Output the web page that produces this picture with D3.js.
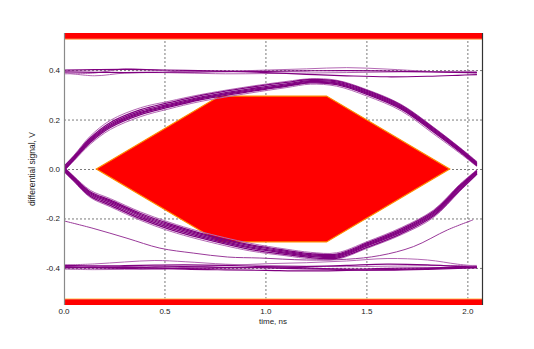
<!DOCTYPE html>
<html>
<head>
<meta charset="utf-8">
<script src="https://cdn.jsdelivr.net/npm/d3@7"></script>
<style>
    body { margin: 0; background: #fff; }
    text { font-family: "Liberation Sans", Arial, sans-serif; }
</style>
</head>
<body>
<div id="chart"></div>
<script>
// time points (ns) shared by the eye arcs
var arcT = [0, 0.05, 0.13, 0.23, 0.38, 0.52, 0.67, 0.92, 1.1, 1.22, 1.35, 1.5, 1.67, 1.83, 1.96, 2.045];

// upper arc traces (V)
var upArc1 = [0.01, 0.052, 0.125, 0.188, 0.24, 0.268, 0.296, 0.33, 0.35, 0.362, 0.356, 0.318, 0.258, 0.166, 0.084, 0.026];
var upArc2 = [0.005, 0.048, 0.12, 0.182, 0.234, 0.262, 0.29, 0.324, 0.344, 0.357, 0.352, 0.314, 0.254, 0.162, 0.08, 0.022];
var upArc3 = [0, 0.044, 0.116, 0.177, 0.229, 0.258, 0.286, 0.32, 0.34, 0.354, 0.348, 0.31, 0.25, 0.158, 0.077, 0.019];
var upArc4 = [-0.003, 0.041, 0.112, 0.173, 0.225, 0.254, 0.283, 0.316, 0.337, 0.351, 0.345, 0.306, 0.246, 0.154, 0.073, 0.016];
var upArc5 = [-0.006, 0.038, 0.107, 0.168, 0.22, 0.25, 0.279, 0.313, 0.334, 0.348, 0.341, 0.302, 0.242, 0.15, 0.07, 0.013];
var upArc6 = [0.012, 0.056, 0.133, 0.197, 0.248, 0.274, 0.3, 0.334, 0.354, 0.365, 0.359, 0.321, 0.261, 0.169, 0.087, 0.03];
var upArc7 = [-0.008, 0.034, 0.1, 0.16, 0.212, 0.243, 0.272, 0.307, 0.329, 0.343, 0.335, 0.295, 0.235, 0.142, 0.064, 0.01];

// lower arc traces (V)
var lowArc1 = [-0.008, -0.048, -0.11, -0.147, -0.202, -0.243, -0.278, -0.325, -0.346, -0.358, -0.361, -0.317, -0.261, -0.19, -0.086, -0.02];
var lowArc2 = [-0.004, -0.044, -0.105, -0.141, -0.196, -0.237, -0.272, -0.319, -0.341, -0.353, -0.356, -0.311, -0.255, -0.185, -0.08, -0.016];
var lowArc3 = [0, -0.04, -0.1, -0.135, -0.19, -0.231, -0.267, -0.315, -0.337, -0.35, -0.352, -0.307, -0.251, -0.18, -0.075, -0.012];
var lowArc4 = [0.003, -0.037, -0.096, -0.13, -0.185, -0.226, -0.262, -0.31, -0.333, -0.346, -0.348, -0.303, -0.247, -0.176, -0.071, -0.009];
var lowArc5 = [0.006, -0.034, -0.092, -0.126, -0.18, -0.221, -0.258, -0.306, -0.329, -0.342, -0.344, -0.299, -0.242, -0.171, -0.067, -0.006];
var lowArc6 = [-0.01, -0.052, -0.115, -0.153, -0.208, -0.25, -0.285, -0.331, -0.351, -0.363, -0.365, -0.321, -0.266, -0.196, -0.09, -0.022];
var lowArc7 = [0.008, -0.03, -0.086, -0.12, -0.174, -0.215, -0.252, -0.3, -0.324, -0.337, -0.339, -0.294, -0.237, -0.166, -0.062, -0.003];

// time points (ns) for the rail traces
var flatT = [0, 0.15, 0.3, 0.45, 0.6, 0.8, 1.0, 1.2, 1.4, 1.6, 1.8, 1.95, 2.045];

var upFlat1 = [0.393, 0.391, 0.39, 0.391, 0.392, 0.394, 0.395, 0.397, 0.398, 0.396, 0.393, 0.391, 0.39];
var upFlat2 = [0.39, 0.377, 0.388, 0.39, 0.388, 0.385, 0.386, 0.388, 0.39, 0.392, 0.394, 0.395, 0.395];
var upFlat3 = [0.385, 0.388, 0.405, 0.4, 0.392, 0.395, 0.4, 0.405, 0.41, 0.404, 0.395, 0.39, 0.388];
var upFlat4 = [0.4, 0.402, 0.403, 0.401, 0.399, 0.396, 0.39, 0.383, 0.377, 0.373, 0.375, 0.379, 0.382];

var lowFlat1 = [-0.395, -0.397, -0.398, -0.396, -0.395, -0.398, -0.4, -0.404, -0.405, -0.402, -0.4, -0.398, -0.396];
var lowFlat2 = [-0.388, -0.384, -0.376, -0.37, -0.375, -0.385, -0.39, -0.393, -0.395, -0.393, -0.391, -0.39, -0.39];
var lowFlat3 = [-0.405, -0.407, -0.406, -0.402, -0.398, -0.39, -0.383, -0.379, -0.372, -0.362, -0.368, -0.385, -0.393];
var lowFlat4 = [-0.4, -0.398, -0.396, -0.4, -0.405, -0.408, -0.41, -0.412, -0.41, -0.407, -0.403, -0.4, -0.398];
var lowFlat5 = [-0.39, -0.392, -0.391, -0.389, -0.388, -0.39, -0.395, -0.4, -0.407, -0.409, -0.406, -0.402, -0.4];
var lowFlat6 = [-0.398, -0.4, -0.402, -0.404, -0.402, -0.4, -0.397, -0.395, -0.39, -0.385, -0.388, -0.394, -0.397];

// single stray trace in the lower half
var strayT = [0, 0.144, 0.312, 0.475, 0.64, 0.81, 0.97, 1.2, 1.4, 1.564, 1.73, 1.9, 2.025];
var strayV = [-0.21, -0.24, -0.28, -0.32, -0.34, -0.356, -0.36, -0.368, -0.365, -0.35, -0.314, -0.246, -0.206];

// eye mask (hexagon) and the top / bottom keep-out bars
var maskT = [0.16, 0.77, 1.30, 1.91, 1.30, 0.77];
var maskV = [0, 0.295, 0.295, 0, -0.295, -0.295];
var barLimit = 0.525;

var xTicks = [0.0, 0.5, 1.0, 1.5, 2.0];
var yTicks = [-0.4, -0.2, 0.0, 0.2, 0.4];

function draw() {
    var w = 534;
    var h = 349;

    var x = d3.scaleLinear().domain([0, 2.07]).range([64, 482]);
    var y = d3.scaleLinear().domain([-0.55, 0.55]).range([305, 33]);

    var svg = d3.select("#chart")
                .append("svg")
                .attr("width", w)
                .attr("height", h);

    svg.append("clipPath").attr("id", "plotclip")
        .append("rect")
        .attr("x", x(0)).attr("y", y(0.55))
        .attr("width", x(2.07) - x(0)).attr("height", y(-0.55) - y(0.55));

    // dotted grid
    svg.selectAll(".vgrid")
        .data(xTicks.filter(function(d) { return d > 0; }))
        .enter().append("line")
        .attr("x1", function(d) { return x(d); })
        .attr("x2", function(d) { return x(d); })
        .attr("y1", y(0.55)).attr("y2", y(-0.55))
        .attr("stroke", "#7a7a7a").attr("stroke-width", 1)
        .attr("stroke-dasharray", "2,2");

    svg.selectAll(".hgrid")
        .data(yTicks)
        .enter().append("line")
        .attr("x1", x(0)).attr("x2", x(2.07))
        .attr("y1", function(d) { return y(d) + 0.5; })
        .attr("y2", function(d) { return y(d) + 0.5; })
        .attr("stroke", "#7a7a7a").attr("stroke-width", 1)
        .attr("stroke-dasharray", "2,2");

    var plot = svg.append("g").attr("clip-path", "url(#plotclip)");

    // mask
    var maskPts = maskT.map(function(t, i) { return [x(t), y(maskV[i])]; });
    plot.append("polygon")
        .attr("points", maskPts.join(" "))
        .attr("fill", "#ff0000")
        .attr("stroke", "#ff8c00")
        .attr("stroke-width", 1.2);

    // keep-out bars
    plot.append("rect")
        .attr("x", x(0)).attr("y", y(0.6))
        .attr("width", x(2.07) - x(0)).attr("height", y(barLimit) - y(0.6))
        .attr("fill", "#ff0000");
    plot.append("rect")
        .attr("x", x(0)).attr("y", y(-barLimit))
        .attr("width", x(2.07) - x(0)).attr("height", y(-0.6) - y(-barLimit))
        .attr("fill", "#ff0000");
    plot.append("line")
        .attr("x1", x(0)).attr("x2", x(2.07))
        .attr("y1", y(barLimit)).attr("y2", y(barLimit))
        .attr("stroke", "#ffb060").attr("stroke-width", 1);
    plot.append("line")
        .attr("x1", x(0)).attr("x2", x(2.07))
        .attr("y1", y(-barLimit)).attr("y2", y(-barLimit))
        .attr("stroke", "#ffe08a").attr("stroke-width", 1);

    var line = d3.line()
        .x(function(d) { return x(d[0]); })
        .y(function(d) { return y(d[1]); })
        .curve(d3.curveCatmullRom.alpha(0.5));

    function trace(ts, vs, color, width) {
        var pts = ts.map(function(t, i) { return [t, vs[i]]; });
        plot.append("path")
            .attr("d", line(pts))
            .attr("fill", "none")
            .attr("stroke", color)
            .attr("stroke-width", width);
    }

    var light = "#b468b4";
    var dark = "#800080";

    // light traces first, dark ones on top
    trace(arcT, upArc6, light, 1);
    trace(arcT, upArc7, light, 1);
    trace(arcT, lowArc6, light, 1);
    trace(arcT, lowArc7, light, 1);
    trace(flatT, upFlat2, light, 1);
    trace(flatT, upFlat3, light, 1);
    trace(flatT, lowFlat2, light, 1);
    trace(flatT, lowFlat3, light, 1);
    trace(strayT, strayV, "#9a3a9a", 1);

    [upArc1, upArc2, upArc3, upArc4, upArc5].forEach(function(v) { trace(arcT, v, dark, 1.3); });
    [lowArc1, lowArc2, lowArc3, lowArc4, lowArc5].forEach(function(v) { trace(arcT, v, dark, 1.3); });
    [upFlat1, upFlat4].forEach(function(v) { trace(flatT, v, dark, 1.2); });
    [lowFlat1, lowFlat4, lowFlat5, lowFlat6].forEach(function(v) { trace(flatT, v, dark, 1.2); });

    // frame sides
    svg.append("line")
        .attr("x1", x(0) + 0.5).attr("x2", x(0) + 0.5)
        .attr("y1", y(0.55)).attr("y2", y(-0.55))
        .attr("stroke", "#8a8a8a").attr("stroke-width", 1.2);
    svg.append("line")
        .attr("x1", x(2.07) + 0.5).attr("x2", x(2.07) + 0.5)
        .attr("y1", y(0.55)).attr("y2", y(-0.55))
        .attr("stroke", "#333").attr("stroke-width", 1.2);

    // tick labels
    svg.selectAll(".ylab")
        .data(yTicks)
        .enter().append("text")
        .attr("x", 60)
        .attr("y", function(d) { return y(d) + 3; })
        .attr("text-anchor", "end")
        .style("font-size", "8px")
        .attr("fill", "#222")
        .text(function(d) { return d.toFixed(1); });

    svg.selectAll(".xlab")
        .data(xTicks)
        .enter().append("text")
        .attr("x", function(d) { return x(d); })
        .attr("y", 314)
        .attr("text-anchor", "middle")
        .style("font-size", "8px")
        .attr("fill", "#222")
        .text(function(d) { return d.toFixed(1); });

    svg.append("text")
        .attr("x", 273).attr("y", 323.5)
        .attr("text-anchor", "middle")
        .style("font-size", "8px")
        .attr("fill", "#222")
        .text("time, ns");

    svg.append("text")
        .attr("transform", "translate(35,169) rotate(-90)")
        .attr("text-anchor", "middle")
        .style("font-size", "8.5px")
        .attr("fill", "#222")
        .text("differential signal, V");
}

draw();
</script>
</body>
</html>
